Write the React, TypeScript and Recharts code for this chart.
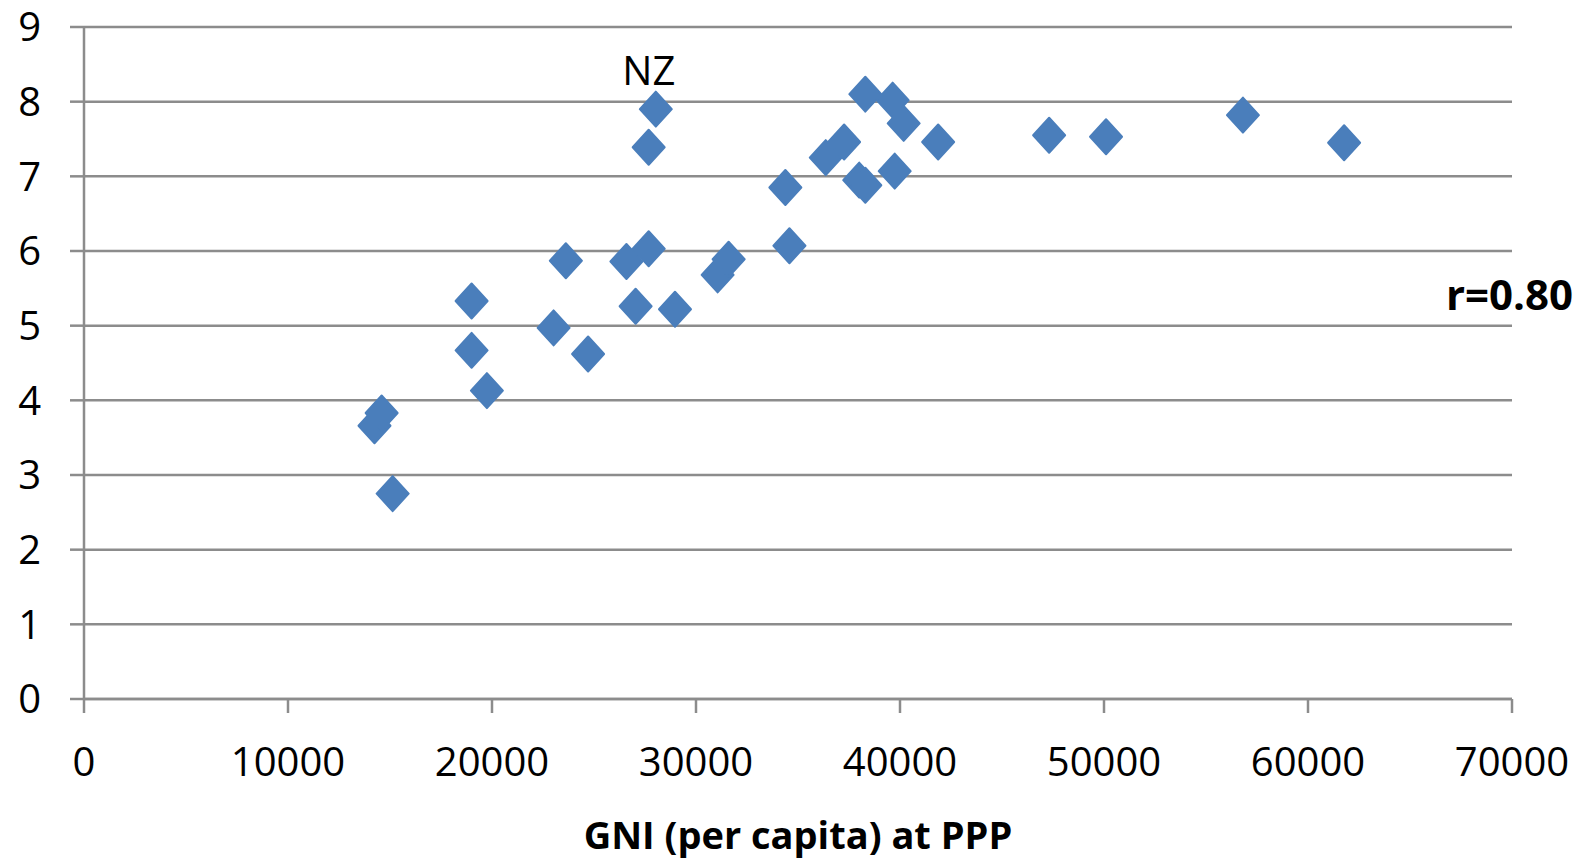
import React from "react";
import {
  ScatterChart,
  Scatter,
  XAxis,
  YAxis,
  CartesianGrid,
  LabelList,
} from "recharts";

// GNI per capita (PPP) vs score
const gni = [
  14240, 14590, 15130, 19000, 19000, 19750, 23020, 23620, 24710, 26590, 27040,
  27680, 27680, 28970, 31060, 31600, 34380, 34580, 36360, 37260, 38000, 38300,
  38300, 39640, 39740, 40180, 41870, 47310, 50100, 56810, 61770,
];
const score = [
  3.66, 3.83, 2.75, 5.33, 4.67, 4.13, 4.97, 5.87, 4.62, 5.86, 5.26, 6.03, 7.39,
  5.22, 5.68, 5.89, 6.85, 6.07, 7.25, 7.46, 6.95, 6.88, 8.1, 8.02, 7.07, 7.71,
  7.46, 7.55, 7.53, 7.82, 7.45,
];
const nzGni = [28030];
const nzScore = [7.9];
const nzLabel = ["NZ"];

const xTicks = [0, 10000, 20000, 30000, 40000, 50000, 60000, 70000];
const yTicks = [0, 1, 2, 3, 4, 5, 6, 7, 8, 9];

const points = gni.map((x, i) => ({ x, y: score[i] }));
const nzPoints = nzGni.map((x, i) => ({ x, y: nzScore[i], name: nzLabel[i] }));

const BLUE = "#4a7ebb";
const GRID = "#8c8c8c";
const FONT = "'Open Sans', 'Noto Sans', sans-serif";

const Diamond = (props: any) => {
  const { cx, cy } = props;
  if (cx == null || cy == null) return null;
  const w = 16;
  const h = 17.5;
  return (
    <polygon
      points={`${cx},${cy - h} ${cx + w},${cy} ${cx},${cy + h} ${cx - w},${cy}`}
      fill={BLUE}
      stroke={BLUE}
      strokeWidth={2}
      strokeLinejoin="round"
    />
  );
};

export default function App() {
  return (
    <div style={{ position: "relative", width: 1570, height: 857, fontFamily: FONT }}>
      <ScatterChart
        width={1570}
        height={857}
        margin={{ top: 19, right: 66, bottom: 66, left: 0 }}
        style={{ overflow: "visible" }}
      >
        <CartesianGrid vertical={false} stroke={GRID} strokeWidth={2.5} />
        <XAxis
          type="number"
          dataKey="x"
          domain={[0, 70000]}
          ticks={xTicks}
          interval={0}
          height={100}
          stroke={GRID}
          strokeWidth={2.5}
          tickSize={14}
          tickMargin={35}
          tick={{ fill: "#000", fontSize: 40, fontFamily: FONT }}
        />
        <YAxis
          type="number"
          dataKey="y"
          domain={[0, 9]}
          ticks={yTicks}
          interval={0}
          width={76}
          stroke={GRID}
          strokeWidth={2.5}
          tickSize={14}
          tickMargin={29}
          tick={{ fill: "#000", fontSize: 40, fontFamily: FONT }}
        />
        <Scatter data={points} shape={<Diamond />} isAnimationActive={false} />
        <Scatter data={nzPoints} shape={<Diamond />} isAnimationActive={false}>
          <LabelList
            dataKey="name"
            position="top"
            offset={20}
            dx={-7}
            fill="#000"
            fontSize={40}
            fontFamily={FONT}
          />
        </Scatter>
      </ScatterChart>
      <div
        style={{
          position: "absolute",
          left: 0,
          width: 1580,
          top: 802,
          textAlign: "center",
          fontSize: 38,
          fontWeight: 700,
          lineHeight: "48px",
        }}
      >
        GNI (per capita) at PPP
      </div>
      <div
        style={{
          position: "absolute",
          left: 1438,
          top: 259,
          fontSize: 42,
          fontWeight: 700,
          lineHeight: "54px",
        }}
      >
        r=0.80
      </div>
    </div>
  );
}
